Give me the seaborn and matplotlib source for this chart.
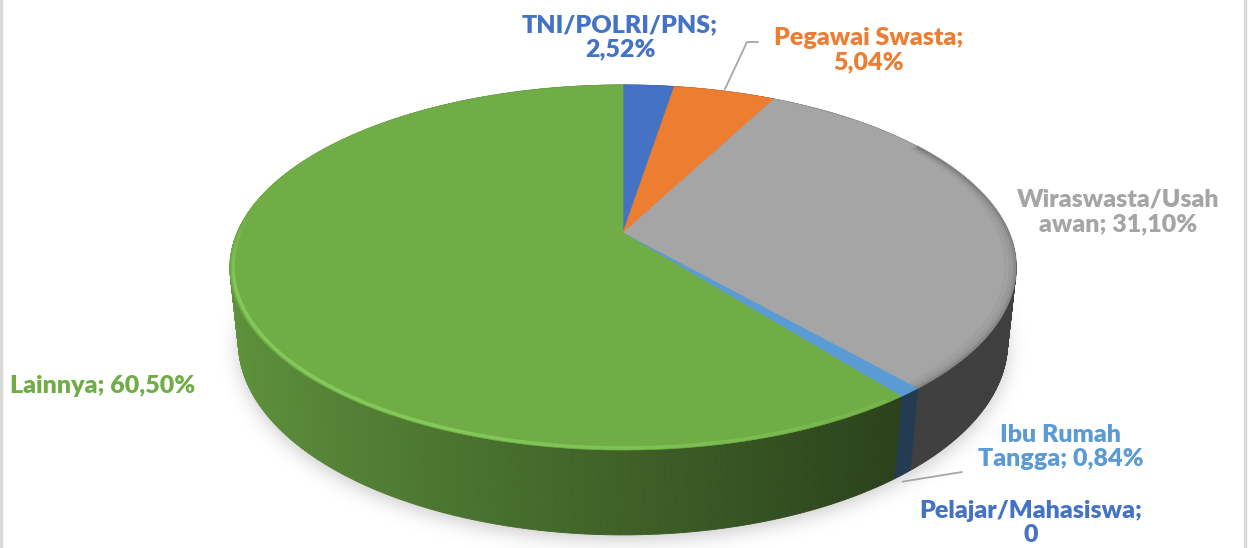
import numpy as np
import matplotlib
matplotlib.use("Agg")
import matplotlib.pyplot as plt
import matplotlib.colors as mcolors
import seaborn as sns
from matplotlib.patches import Polygon
from matplotlib.path import Path
from matplotlib.collections import PolyCollection, LineCollection

# ---- data -------------------------------------------------------------
categories = ["TNI/POLRI/PNS", "Pegawai Swasta", "Wiraswasta/Usahawan",
              "Ibu Rumah Tangga", "Pelajar/Mahasiswa", "Lainnya"]
values = [2.52, 5.04, 31.10, 0.84, 0.0, 60.50]
colors = ["#4472C4", "#ED7D31", "#A5A5A5", "#5B9BD5", "#4472C4", "#70AD47"]
# where each label wraps onto a second line (character index, None = one line)
wrap_at = [15, 16, 15, 10, 19, None]

# ---- style ------------------------------------------------------------
sns.set_theme(style="white")
plt.rcParams["font.family"] = ["Lato", "DejaVu Sans"]

W, H = 1250, 548
fig = plt.figure(figsize=(W / 100, H / 100), dpi=100)
ax = fig.add_axes([0, 0, 1, 1])
ax.set_xlim(0, W)
ax.set_ylim(H, 0)
ax.axis("off")

# ---- perspective projection of a tilted disc --------------------------
CX, CY = 623.0, 233.0
SIN_T, COS_T = 0.456, 0.890
DIST = 4.71
FOC = 386.0 * DIST
DEPTH = 0.219


def project(phi_deg, depth=0.0, radius=1.0):
    phi = np.radians(phi_deg)
    u = radius * np.sin(phi)
    v = -radius * np.cos(phi)
    d = DIST - v * COS_T + depth * SIN_T
    x = CX + FOC * u / d
    y = CY + FOC * (v * SIN_T + depth * COS_T) / d
    return x, y


def shade(hex_color, factor):
    rgb = np.array(mcolors.to_rgb(hex_color))
    return tuple(np.clip(rgb * factor, 0, 1))


total = sum(values)
bounds = np.concatenate([[0], np.cumsum(values)]) / total * 360.0

# ---- soft shadow under the pie -----------------------------------------
ring = np.linspace(0, 360, 361)
bx, by = project(ring, DEPTH)
gx, gy = np.meshgrid(np.arange(W) + 0.5, np.arange(H) + 0.5)
mask = Path(np.column_stack([bx, by + 5])).contains_points(
    np.column_stack([gx.ravel(), gy.ravel()])).reshape(H, W).astype(float)
k = np.arange(-30, 31)
kern = np.exp(-0.5 * (k / 9.0) ** 2)
kern /= kern.sum()
blur = np.apply_along_axis(lambda r: np.convolve(r, kern, mode="same"), 1, mask)
blur = np.apply_along_axis(lambda c: np.convolve(c, kern, mode="same"), 0, blur)
shadow = np.zeros((H, W, 4))
shadow[..., :3] = 0.55
shadow[..., 3] = blur * 0.45
ax.imshow(shadow, extent=[0, W, H, 0], zorder=0, interpolation="bilinear")

# ---- side walls ---------------------------------------------------------
quads = []
for val, col, a0, a1 in zip(values, colors, bounds[:-1], bounds[1:]):
    if val <= 0:
        continue
    n = max(2, int((a1 - a0) / 0.4) + 1)
    phis = np.linspace(a0, a1, n)
    for p0, p1 in zip(phis[:-1], phis[1:]):
        x0, y0 = project(p0)
        x1, y1 = project(p1)
        x2, y2 = project(p1, DEPTH)
        x3, y3 = project(p0, DEPTH)
        pm = np.radians((p0 + p1) / 2)
        u, v = np.sin(pm), -np.cos(pm)
        fac = max(0.38, 0.56 - 0.30 * u)
        quads.append((v, [(x0, y0), (x1, y1), (x2, y2), (x3, y3)], shade(col, fac)))
quads.sort(key=lambda q: q[0])
side = PolyCollection([q[1] for q in quads], facecolors=[q[2] for q in quads],
                      edgecolors=[q[2] for q in quads], linewidths=0.6, zorder=2)
ax.add_collection(side)

# ---- top faces ----------------------------------------------------------
for val, col, a0, a1 in zip(values, colors, bounds[:-1], bounds[1:]):
    if val <= 0:
        continue
    phis = np.linspace(a0, a1, max(2, int((a1 - a0) / 0.3) + 1))
    ax_, ay_ = project(phis)
    pts = [(CX, CY)] + list(zip(ax_, ay_))
    ax.add_patch(Polygon(pts, closed=True, facecolor=col, edgecolor=col,
                         linewidth=0.5, zorder=3))

# bevel highlight on the front rim of the largest slice
g0, g1 = bounds[5], bounds[6]
phis = np.linspace(g0 + 2, g1 - 60, 300)
segs, cols = [], []
for p0, p1 in zip(phis[:-1], phis[1:]):
    x0, y0 = project(p0, radius=0.992)
    x1, y1 = project(p1, radius=0.992)
    pm = np.radians(p0)
    u, v = np.sin(pm), -np.cos(pm)
    a = float(np.clip(0.65 - 0.5 * (u + 0.2), 0.0, 0.75))
    a *= float(np.clip((v + 0.1) / 0.4, 0.0, 1.0))
    segs.append([(x0, y0), (x1, y1)])
    cols.append((0.55, 0.83, 0.38, a))
ax.add_collection(LineCollection(segs, colors=cols, linewidths=2.4, zorder=4))

# darker bevel on the right rim of the grey slice
w0, w1 = bounds[2], bounds[3]
phis = np.linspace(w0 + 30, w1, 200)
for r, a in zip([0.975, 0.985, 0.993, 0.999], [0.07, 0.13, 0.2, 0.3]):
    xs, ys = project(phis, radius=r)
    ax.plot(xs, ys, color="#555555", alpha=a, lw=2.2, zorder=4,
            solid_capstyle="butt")

# ---- labels -------------------------------------------------------------
def fmt(v):
    return "0" if v == 0 else f"{v:.2f}%".replace(".", ",")


label_pos = [(620, 37, "center"), (869, 50, "center"), (1118, 212, "center"),
             (1061, 447, "center"), (1031, 523, "center"), (10, 386, "left")]
for cat, val, col, cut, (lx, ly, ha) in zip(categories, values, colors,
                                           wrap_at, label_pos):
    text = f"{cat}; {fmt(val)}"
    if cut is not None:
        text = text[:cut].rstrip() + "\n" + text[cut:].lstrip()
    ax.text(lx, ly, text, color=col, fontsize=18, fontweight="heavy",
            ha=ha, va="center", linespacing=1.12, zorder=6)

# leader lines
mid = (bounds[1] + bounds[2]) / 2
px, py = project(mid)
ax.plot([px, 747, 758], [py - 2, 42, 42], color="#A6A6A6", lw=1.3, zorder=5)
mid = (bounds[3] + bounds[4]) / 2
px, py = project(mid, DEPTH)
ax.plot([px, 962], [py + 7, 472], color="#A6A6A6", lw=1.3, zorder=5)

# chart frame edges
ax.plot([1, 1], [0, H], color="#D9D9D9", lw=2.5, zorder=7)
ax.plot([1245, 1245], [0, H], color="#D9D9D9", lw=2.5, zorder=7)

fig.savefig("out.png", dpi=100, facecolor="white")
